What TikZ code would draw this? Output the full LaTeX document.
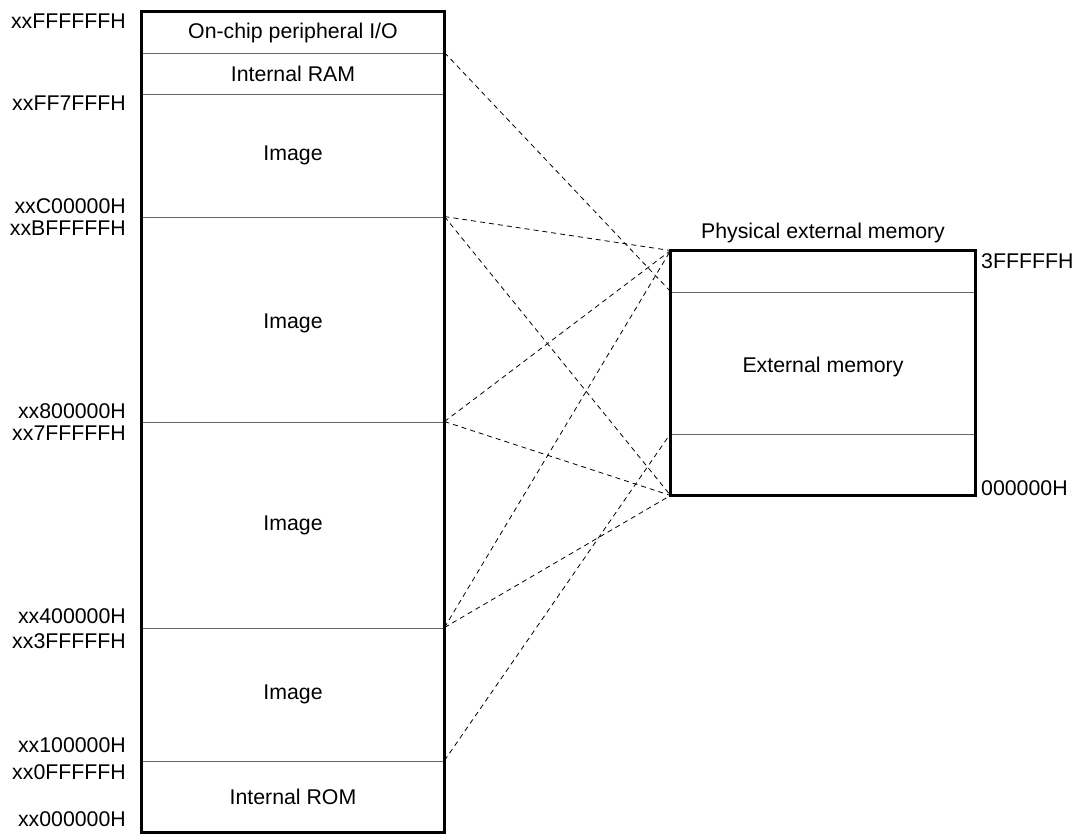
\documentclass[tikz,border=0pt]{standalone}
\usepackage{fontspec}
\setmainfont{Liberation Sans}
\usepackage{xcolor}
\usepackage{tikz}
\usetikzlibrary{positioning}
\definecolor{divgray}{HTML}{666666}

\tikzset{
  area/.style={draw=divgray, line width=0.9pt, inner sep=0pt, minimum width=302pt},
  extarea/.style={draw=divgray, line width=0.9pt, inner sep=0pt, minimum width=304pt},
  frame/.style={draw=black, line width=2.6pt},
  addr/.style={inner sep=0pt},
  map/.style={draw=black, line width=0.8pt, dash pattern=on 5pt off 4pt},
}

\begin{document}
\begin{tikzpicture}[x=1pt, y=-1pt, font=\fontsize{21.3}{25}\selectfont]
    \useasboundingbox (0,0) rectangle (1077,837);

    % address space of the cpu
    \node[area, minimum height=41pt]  (io)   at (293,32.5)  {On-chip peripheral I/O};
    \node[area, minimum height=41pt]  (ram)  at (293,73.5)  {Internal RAM};
    \node[area, minimum height=123pt] (imgd) at (293,155.5) {Image};
    \node[area, minimum height=205pt] (imgc) at (293,319.5) {};
    \node[area, minimum height=206pt] (imgb) at (293,525)   {Image};
    \node[area, minimum height=133pt] (imga) at (293,694.5) {Image};
    \node[area, minimum height=71pt]  (rom)  at (293,796.5) {Internal ROM};
    \node[addr] (imgctext) at ([yshift=-4pt]imgc.center) {Image};
    \draw[frame] (io.north west) rectangle (rom.south east);

    \node[addr, anchor=east] (a1)  at (126,21)  {xxFFFFFFH};
    \node[addr, anchor=east] (a2)  at (126,103) {xxFF7FFFH};
    \node[addr, anchor=east] (a3)  at (126,206) {xxC00000H};
    \node[addr, anchor=east] (a4)  at (126,228) {xxBFFFFFH};
    \node[addr, anchor=east] (a5)  at (126,411) {xx800000H};
    \node[addr, anchor=east] (a6)  at (126,433) {xx7FFFFFH};
    \node[addr, anchor=east] (a7)  at (126,616) {xx400000H};
    \node[addr, anchor=east] (a8)  at (126,641) {xx3FFFFFH};
    \node[addr, anchor=east] (a9)  at (126,745) {xx100000H};
    \node[addr, anchor=east] (a10) at (126,772) {xx0FFFFFH};
    \node[addr, anchor=east] (a11) at (126,819) {xx000000H};

    % physical external memory
    \node[extarea, minimum height=41pt]  (etop) at (823,271.5) {};
    \node[extarea, minimum height=142pt] (emem) at (823,363)   {};
    \node[extarea, minimum height=61pt]  (ebot) at (823,464.5) {};
    \node[addr] (ememtext) at ([yshift=-4pt]emem.center) {External memory};
    \draw[frame] (etop.north west) rectangle (ebot.south east);
    \node[addr, above=7pt of etop] (title) {Physical external memory};
    \node[addr, anchor=west] (etopaddr) at (981,261) {3FFFFFH};
    \node[addr, anchor=west] (ebotaddr) at (981,488) {000000H};

    % mapping
    \draw[map] (ram.north east)  -- (emem.north west);
    \draw[map] (imgc.north east) -- (etop.north west);
    \draw[map] (imgc.north east) -- (ebot.south west);
    \draw[map] (imgb.north east) -- (etop.north west);
    \draw[map] (imgb.north east) -- (ebot.south west);
    \draw[map] (imga.north east) -- (etop.north west);
    \draw[map] (imga.north east) -- (ebot.south west);
    \draw[map] (rom.north east)  -- (ebot.north west);
\end{tikzpicture}
\end{document}
